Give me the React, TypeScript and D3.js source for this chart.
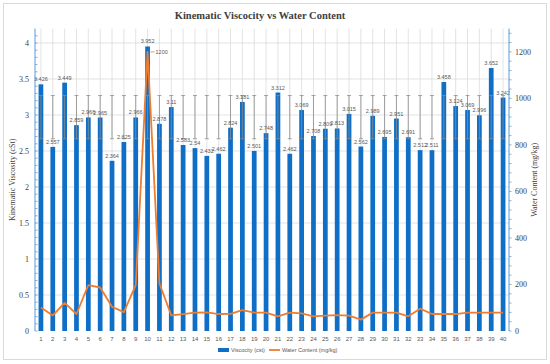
import React from 'react';
import * as d3 from 'd3';

const categories = [
  '1', '2', '3', '4', '5', '6', '7', '8', '9', '10',
  '11', '12', '13', '14', '15', '16', '17', '18', '19', '20',
  '21', '22', '23', '24', '25', '26', '27', '28', '29', '30',
  '31', '32', '33', '34', '35', '36', '37', '38', '39', '40',
];
const viscosity = [
  3.426, 2.557, 3.449, 2.859, 2.966, 2.965, 2.364, 2.625, 2.966, 3.952,
  2.878, 3.11, 2.583, 2.54, 2.432, 2.462, 2.824, 3.181, 2.501, 2.748,
  3.312, 2.462, 3.069, 2.708, 2.809, 2.813, 3.015, 2.562, 2.989, 2.695,
  2.951, 2.691, 2.512, 2.511, 3.458, 3.124, 3.069, 2.996, 3.652, 3.242,
];
const waterContent = [
  101, 67, 121, 73, 197, 187, 104, 81, 197, 1200,
  204, 67, 73, 79, 80, 73, 74, 90, 79, 79,
  63, 79, 76, 63, 66, 68, 66, 49, 79, 79,
  79, 63, 96, 73, 73, 73, 79, 79, 79, 79,
];
// error bars: series mean +/- one standard deviation
const errorRange = [2.67, 3.27];
const leftTicks = [0, 0.5, 1, 1.5, 2, 2.5, 3, 3.5, 4];
const leftMinor = d3.range(0, 42).map((i) => i / 10);
const rightTicks = [0, 200, 400, 600, 800, 1000, 1200];
const rightMinor = d3.range(0, 33).map((i) => i * 40);

const W = 550;
const H = 364;
const serif = '"Liberation Serif", "Times New Roman", serif';
const sans = '"Liberation Sans", Arial, sans-serif';

export default function App() {
  const left = 35;
  const right = 509;
  const top = 28.6;
  const bottom = 331;

  const x = d3.scaleBand<string>()
    .domain(categories)
    .range([left, right])
    .paddingInner(0.6)
    .paddingOuter(0.3);
  const y = d3.scaleLinear().domain([0, 4.2]).range([bottom, top]);
  const y2 = d3.scaleLinear().domain([0, 1300]).range([bottom, top]);
  const cx = (c: string) => (x(c) ?? 0) + x.bandwidth() / 2;

  const line = d3.line<number>()
    .x((_, i) => cx(categories[i]))
    .y((d) => y2(d));

  const axisBlue = '#5b9bd5';
  const grid = '#d9d9d9';
  const textGray = '#595959';

  const peak = waterContent.indexOf(d3.max(waterContent) as number);

  return (
    <svg width={W} height={H} style={{ position: 'absolute', left: 0, top: 0 }}>
      <rect x={0} y={0} width={W} height={H} fill="#fff" />
      <rect x={3.5} y={3.5} width={543} height={356} fill="none" stroke="#d9d9d9" />

      <text x={260} y={19} textAnchor="middle" fontFamily={serif} fontWeight="bold"
        fontSize={10.5} fill="#404040">
        Kinematic Viscocity vs Water Content
      </text>

      {/* gridlines */}
      {leftTicks.slice(1).map((t) => (
        <line key={'h' + t} x1={left} x2={right} y1={y(t)} y2={y(t)} stroke={grid} strokeWidth={0.75} />
      ))}
      {categories.map((c) => (
        <line key={'v' + c} x1={cx(c)} x2={cx(c)} y1={top} y2={bottom} stroke={grid} strokeWidth={0.75} />
      ))}

      {/* bars */}
      {viscosity.map((v, i) => (
        <rect key={'b' + i} x={x(categories[i])} y={y(v)} width={x.bandwidth()}
          height={bottom - y(v)} fill="#0f6fc6" />
      ))}

      {/* error bars */}
      {categories.map((c) => (
        <g key={'e' + c} stroke="#8c8c8c" strokeWidth={0.8}>
          <line x1={cx(c)} x2={cx(c)} y1={y(errorRange[0])} y2={y(errorRange[1])} />
          <line x1={cx(c) - 2} x2={cx(c) + 2} y1={y(errorRange[0])} y2={y(errorRange[0])} />
          <line x1={cx(c) - 2} x2={cx(c) + 2} y1={y(errorRange[1])} y2={y(errorRange[1])} />
        </g>
      ))}

      {/* bar labels */}
      {viscosity.map((v, i) => (
        <text key={'l' + i} x={cx(categories[i])} y={y(v) - 3} textAnchor="middle"
          fontFamily={sans} fontSize={5.5} fill={textGray}>
          {String(v)}
        </text>
      ))}

      {/* water content line */}
      <path d={line(waterContent) ?? ''} fill="none" stroke="#ed7d31" strokeWidth={1.8}
        strokeLinejoin="round" />
      <line x1={cx(categories[peak]) + 3} x2={cx(categories[peak]) + 7}
        y1={y2(waterContent[peak])} y2={y2(waterContent[peak])} stroke={textGray} strokeWidth={0.5} />
      <text x={cx(categories[peak]) + 8} y={y2(waterContent[peak]) + 2} fontFamily={sans}
        fontSize={5.5} fill={textGray}>
        {waterContent[peak]}
      </text>

      {/* left axis */}
      <line x1={left} x2={left} y1={top} y2={bottom} stroke={axisBlue} strokeWidth={1} />
      {leftMinor.map((t) => (
        <line key={'lm' + t} x1={left} x2={left + 2.5} y1={y(t)} y2={y(t)} stroke={axisBlue} strokeWidth={0.75} />
      ))}
      {leftTicks.map((t) => (
        <text key={'lt' + t} x={29} y={y(t) + 3} textAnchor="end" fontFamily={serif}
          fontSize={8} fill="#404040">
          {String(t)}
        </text>
      ))}

      {/* right axis */}
      <line x1={right} x2={right} y1={top} y2={bottom} stroke={axisBlue} strokeWidth={1} />
      {rightMinor.map((t) => (
        <line key={'rm' + t} x1={right} x2={right + 2.5} y1={y2(t)} y2={y2(t)} stroke={axisBlue} strokeWidth={0.75} />
      ))}
      {rightTicks.map((t) => (
        <text key={'rt' + t} x={515} y={y2(t) + 3} fontFamily={serif} fontSize={8} fill="#404040">
          {String(t)}
        </text>
      ))}

      {/* category labels */}
      {categories.map((c) => (
        <text key={'c' + c} x={cx(c)} y={341} textAnchor="middle" fontFamily={sans}
          fontSize={6} fill={textGray}>
          {c}
        </text>
      ))}

      {/* axis titles */}
      <text transform={`translate(15, ${(top + bottom) / 2}) rotate(-90)`} textAnchor="middle"
        fontFamily={serif} fontSize={8} fill="#404040">
        Kinematic Viscosity (cSt)
      </text>
      <text transform={`translate(537, ${(top + bottom) / 2}) rotate(-90)`} textAnchor="middle"
        fontFamily={serif} fontSize={8} fill="#404040">
        Water Content (mg/kg)
      </text>

      {/* legend */}
      <rect x={218} y={348} width={11} height={4} fill="#0f6fc6" />
      <text x={231} y={352} fontFamily={sans} fontSize={5.5} fill={textGray}>Viscocity (cst)</text>
      <line x1={269} x2={280} y1={350} y2={350} stroke="#ed7d31" strokeWidth={1.8} />
      <text x={282} y={352} fontFamily={sans} fontSize={5.5} fill={textGray}>Water Content (mg/kg)</text>
    </svg>
  );
}
